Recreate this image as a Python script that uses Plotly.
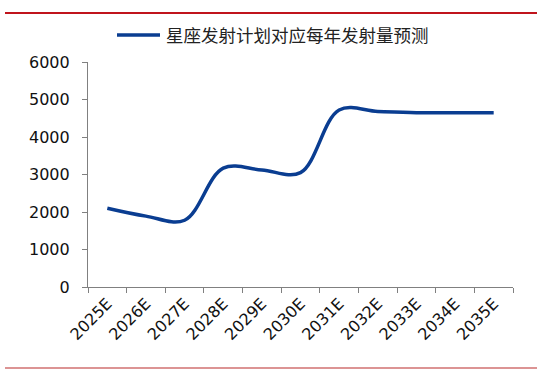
import plotly.graph_objects as go

categories = ["2025E", "2026E", "2027E", "2028E", "2029E", "2030E",
              "2031E", "2032E", "2033E", "2034E", "2035E"]
launches = [2100, 1890, 1780, 3170, 3120, 3050, 4720, 4680, 4650, 4650, 4650]
series_name = "星座发射计划对应每年发射量预测"
y_ticks = [0, 1000, 2000, 3000, 4000, 5000, 6000]

W, H = 541, 373
L, R, T, B = 88, 28, 62, 86
pw, ph = W - L - R, H - T - B

def px_x(p):
    return (p - L) / pw

def px_y(p):
    return (H - B - p) / ph

LINE_COLOR = "#0a3d91"

fig = go.Figure()
fig.add_trace(go.Scatter(
    x=categories, y=launches, mode="lines", name=series_name,
    line=dict(color=LINE_COLOR, width=3.5, shape="spline", smoothing=1),
    showlegend=False,
))

fig.update_layout(
    width=W, height=H,
    margin=dict(l=L, r=R, t=T, b=B, autoexpand=False),
    paper_bgcolor="white", plot_bgcolor="white",
    showlegend=False,
    font=dict(family="DejaVu Sans", size=16, color="#111"),
    xaxis=dict(type="category", range=[-0.5, len(categories) - 0.5],
               showline=True, linecolor="#808080", linewidth=1.2,
               ticks="outside", tickson="boundaries", ticklen=5,
               tickcolor="#808080", tickangle=-45, showgrid=False,
               tickfont=dict(family="DejaVu Sans", size=16, color="#111")),
    yaxis=dict(range=[0, 6000], tickvals=y_ticks,
               showline=True, linecolor="#808080", linewidth=1.2,
               ticks="outside", ticklen=5, tickcolor="#808080",
               ticklabelstandoff=9,
               showgrid=False, zeroline=False,
               tickfont=dict(family="DejaVu Sans", size=16, color="#111")),
    shapes=[
        dict(type="line", xref="paper", yref="paper",
             x0=px_x(5), x1=px_x(537), y0=px_y(13), y1=px_y(13),
             line=dict(color="#c0141c", width=2)),
        dict(type="line", xref="paper", yref="paper",
             x0=px_x(5), x1=px_x(537), y0=px_y(368), y1=px_y(368),
             line=dict(color="#d07070", width=1.5)),
        # legend sample
        dict(type="line", xref="paper", yref="paper",
             x0=px_x(117), x1=px_x(160), y0=px_y(35), y1=px_y(35),
             line=dict(color=LINE_COLOR, width=3.5)),
    ],
    annotations=[
        dict(text=series_name, xref="paper", yref="paper",
             x=px_x(164), y=px_y(35), xanchor="left", yanchor="middle",
             showarrow=False,
             font=dict(family="Noto Sans CJK SC", size=17.5, color="#222")),
    ],
)

fig.write_html("out.html", config={"displayModeBar": False},
               post_script="document.body.style.margin='0';")
